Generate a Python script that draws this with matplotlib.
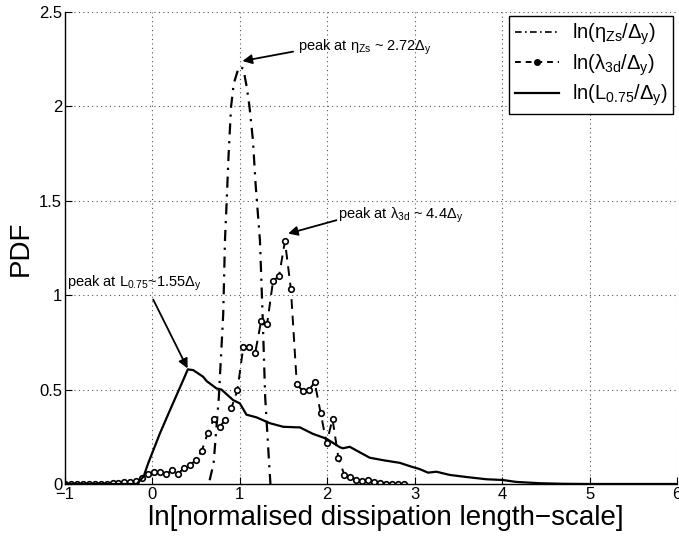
import matplotlib
matplotlib.use("Agg")
import matplotlib.pyplot as plt
from matplotlib.lines import Line2D

plt.rcParams['font.family'] = ['Liberation Sans', 'DejaVu Sans']
plt.rcParams['mathtext.fontset'] = 'custom'
plt.rcParams['mathtext.rm'] = 'Liberation Sans'
plt.rcParams['mathtext.it'] = 'Liberation Sans'

# ln(eta_Zs / Delta_y)
eta_x = [0.655, 0.70, 0.76, 0.81, 0.83, 0.85, 0.87, 0.90, 0.93, 0.99, 1.04, 1.08,
         1.11, 1.15, 1.18, 1.23, 1.26, 1.29, 1.335, 1.35]
eta_y = [0.02, 0.11, 0.46, 0.90, 1.29, 1.50, 1.73, 2.00, 2.12, 2.21, 2.20, 2.10,
         2.00, 1.82, 1.59, 1.29, 0.90, 0.46, 0.11, 0.0]

# ln(lambda_3d / Delta_y)
lam_x = [-1.000, -0.932, -0.864, -0.796, -0.728, -0.660, -0.592, -0.524, -0.456, -0.388,
         -0.320, -0.252, -0.184, -0.116, -0.048, 0.020, 0.088, 0.156, 0.224, 0.292,
         0.360, 0.428, 0.496, 0.564, 0.632, 0.700, 0.768, 0.836, 0.904, 0.972,
         1.040, 1.108, 1.176, 1.244, 1.312, 1.380, 1.448, 1.516, 1.584, 1.652,
         1.720, 1.788, 1.856, 1.924, 1.992, 2.060, 2.128, 2.196, 2.264, 2.332,
         2.400, 2.468, 2.536, 2.604, 2.672, 2.740, 2.808, 2.876]
lam_y = [0.0, 0.0, 0.0, 0.0, 0.0, 0.001, 0.001, 0.002, 0.003, 0.005,
         0.008, 0.010, 0.016, 0.030, 0.055, 0.062, 0.062, 0.051, 0.074, 0.051,
         0.086, 0.100, 0.125, 0.175, 0.268, 0.342, 0.303, 0.339, 0.404, 0.496,
         0.727, 0.723, 0.695, 0.864, 0.847, 1.076, 1.100, 1.286, 1.032, 0.527,
         0.494, 0.496, 0.538, 0.377, 0.215, 0.344, 0.136, 0.048, 0.037, 0.023,
         0.018, 0.021, 0.012, 0.005, 0.002, 0.001, 0.001, 0.0]

# ln(L_0.75 / Delta_y)
L_x = [-1.0, -0.5, -0.18, -0.1, -0.048, 0.086, 0.2, 0.352, 0.405, 0.467, 0.58, 0.62,
       0.733, 0.79, 0.924, 1.0, 1.076, 1.19, 1.343, 1.495, 1.648, 1.686, 1.838, 1.99,
       2.143, 2.18, 2.257, 2.371, 2.486, 2.65, 2.829, 2.96, 3.057, 3.152, 3.248, 3.4,
       3.59, 3.82, 4.01, 4.16, 4.43, 4.7, 5.0, 5.5, 6.0]
L_y = [0.0, 0.0, 0.0, 0.04, 0.11, 0.268, 0.39, 0.55, 0.607, 0.603, 0.568, 0.545,
       0.506, 0.50, 0.444, 0.427, 0.367, 0.353, 0.322, 0.303, 0.30, 0.30, 0.265, 0.24,
       0.195, 0.189, 0.197, 0.168, 0.139, 0.125, 0.112, 0.092, 0.079, 0.06, 0.065, 0.048,
       0.037, 0.025, 0.021, 0.011, 0.004, 0.001, 0.0, 0.0, 0.0]

x_ticks = [-1, 0, 1, 2, 3, 4, 5, 6]
x_ticklabels = ['\u22121', '0', '1', '2', '3', '4', '5', '6']
y_ticks = [0, 0.5, 1, 1.5, 2, 2.5]
y_ticklabels = ['0', '0.5', '1', '1.5', '2', '2.5']

fig = plt.figure(figsize=(6.79, 5.41), dpi=100)
ax = fig.add_axes([0.0957, 0.1054, 0.9013, 0.8725])

ax.plot(eta_x, eta_y, color='black', lw=1.6, linestyle=(0, (5, 3, 1, 3)))
ax.plot(lam_x, lam_y, color='black', lw=1.4, linestyle=(0, (5, 3.5)),
        marker='o', markersize=4.0, markerfacecolor='white', markeredgewidth=1.2,
        markeredgecolor='black')
ax.plot(L_x, L_y, color='black', lw=1.6, linestyle='-')

ax.set_xlim(-1, 6)
ax.set_ylim(0, 2.5)
ax.set_xticks(x_ticks)
ax.set_xticklabels(x_ticklabels)
ax.set_yticks(y_ticks)
ax.set_yticklabels(y_ticklabels)
ax.tick_params(direction='in', length=5, labelsize=12, pad=2)
ax.grid(True, linestyle=(0, (1, 3)), color='#555555', lw=0.8)
for s in ['top', 'right']:
    ax.spines[s].set_visible(False)
for s in ['left', 'bottom']:
    ax.spines[s].set_linewidth(1.0)

ax.set_xlabel('ln[normalised dissipation length\u2212scale]', fontsize=20)
ax.xaxis.set_label_coords(0.524, -0.045, transform=ax.transAxes)
ax.xaxis.label.set_va('top')
ax.set_ylabel('PDF', fontsize=20, labelpad=4)

ap = dict(arrowstyle='-|>', color='black', lw=1.3, mutation_scale=14, shrinkA=0, shrinkB=0)
ax.annotate('', xy=(1.03, 2.24), xytext=(1.61, 2.29), arrowprops=ap)
ax.text(1.66, 2.31, r'peak at $\eta_{Zs}$ ~ 2.72$\Delta_y$', fontsize=10.5, va='center', ha='left')
ax.annotate('', xy=(1.552, 1.326), xytext=(2.105, 1.397), arrowprops=ap)
ax.text(2.12, 1.423, r'peak at $\lambda_{3d}$ ~ 4.4$\Delta_y$', fontsize=10.5, va='center', ha='left')
ax.annotate('', xy=(0.402, 0.612), xytext=(0.009, 0.977), arrowprops=ap)
ax.text(-0.98, 1.062, r'peak at $L_{0.75}$~1.55$\Delta_y$', fontsize=10.5, va='center', ha='left')

handles = [
    Line2D([], [], color='black', lw=1.2, linestyle=(0, (4, 2, 1, 2))),
    Line2D([], [], color='black', lw=1.4, linestyle=(0, (3, 2.5)), marker='o',
           markersize=4, markerfacecolor='black'),
    Line2D([], [], color='black', lw=1.6, linestyle='-'),
]
labels = [r'ln($\eta_{Zs}$/$\Delta_y$)', r'ln($\lambda_{3d}$/$\Delta_y$)',
          r'ln($L_{0.75}$/$\Delta_y$)']
leg = ax.legend(handles, labels, loc='upper right', bbox_to_anchor=(0.994, 0.992),
                fontsize=14.5, frameon=True, fancybox=False, edgecolor='black',
                handlelength=2.2, handletextpad=0.6, borderpad=0.3, labelspacing=0.25,
                borderaxespad=0)
leg.get_frame().set_linewidth(1.0)
leg.get_frame().set_alpha(1)

fig.savefig('out.png', dpi=100)
